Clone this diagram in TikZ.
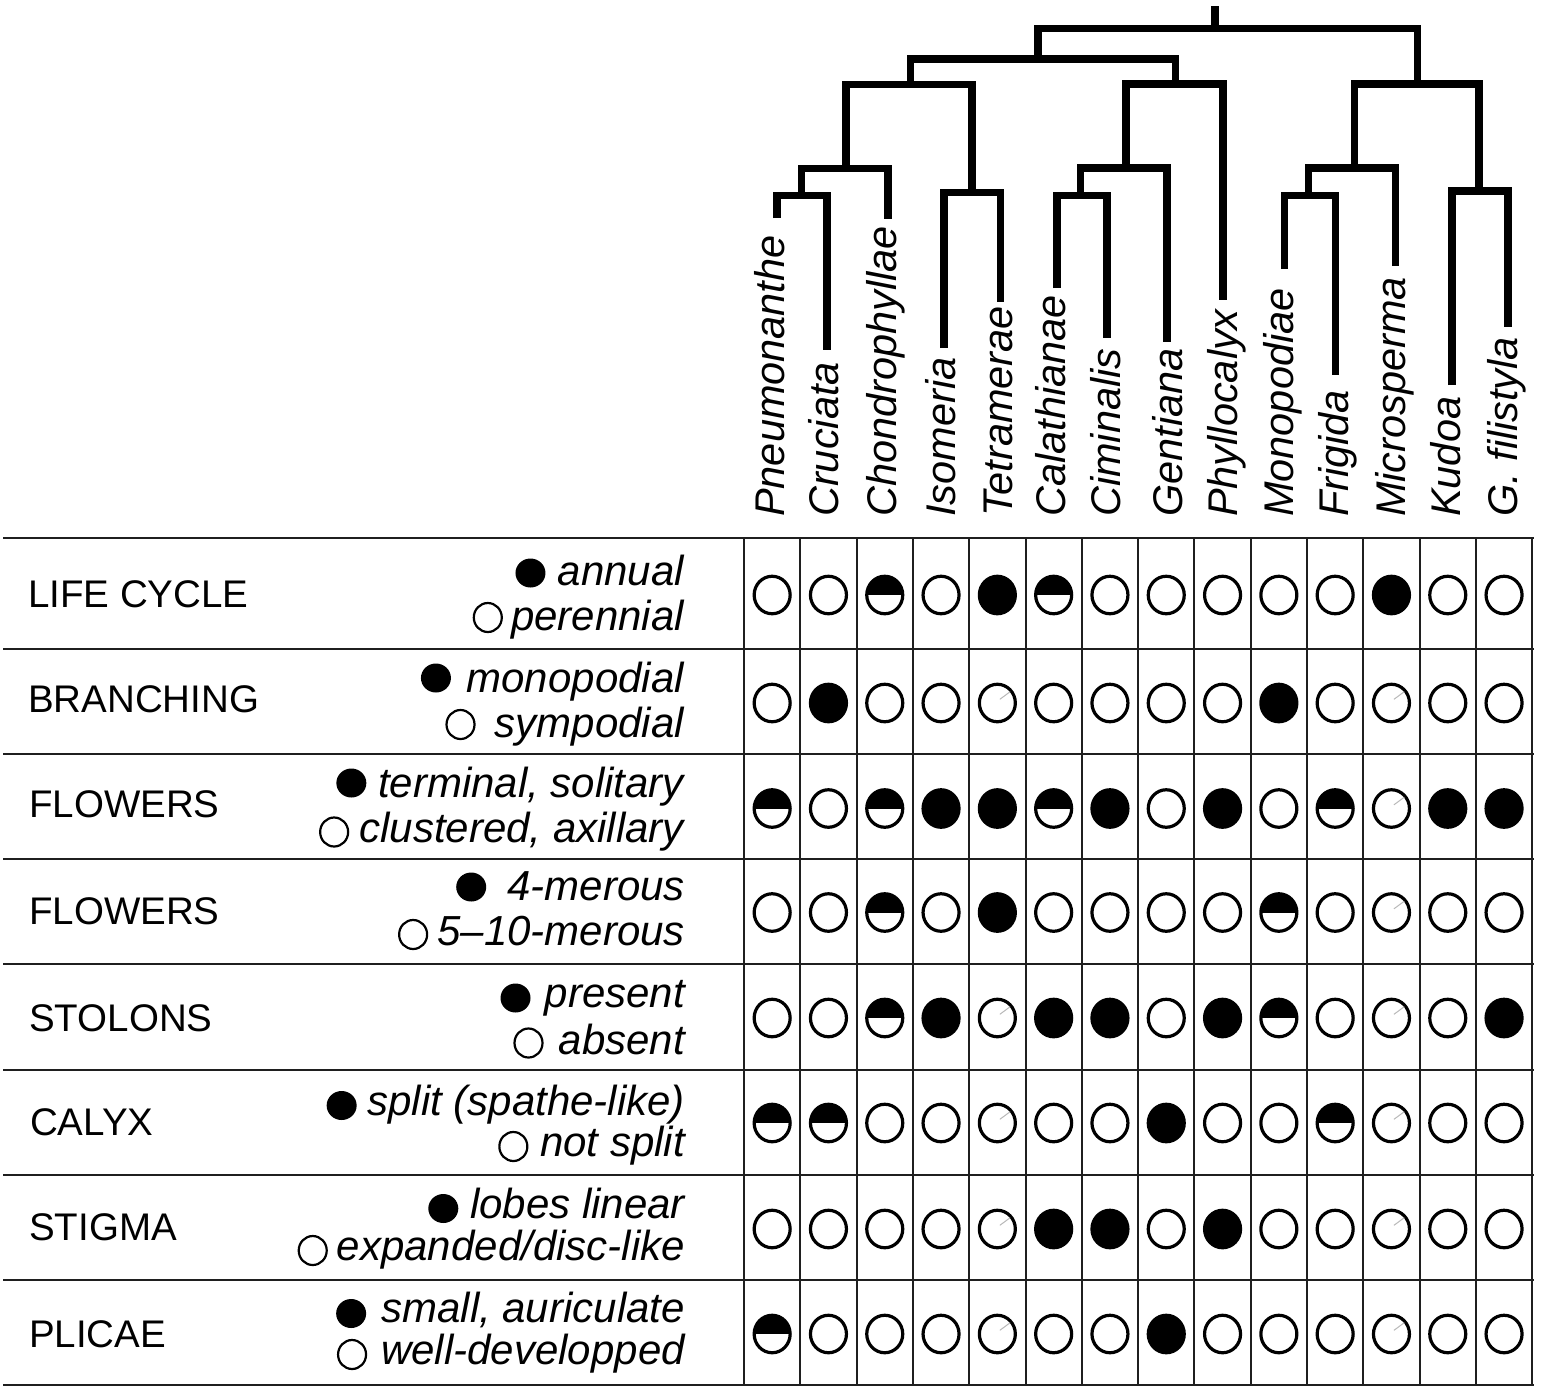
\documentclass[tikz,border=0pt]{standalone}
\usepackage{fontspec}
\setmainfont{Liberation Sans}
\usetikzlibrary{shapes.geometric}
\begin{document}
\begin{tikzpicture}[x=1pt,y=-1pt,
  branch/.style={line width=7.5pt, line join=miter},
  gridline/.style={line width=2pt, black!88, line cap=rect},
  taxon/.style={rotate=90, anchor=base west, inner sep=0pt, font=\fontsize{41.5}{48}\selectfont\itshape},
  rowlab/.style={anchor=base west, inner sep=0pt, font=\fontsize{38.5}{44}\selectfont},
  legtxt/.style={anchor=base east, inner sep=0pt, font=\fontsize{42}{48}\selectfont\itshape},
  legfull/.style={ellipse, fill=black, inner sep=0pt, minimum width=30pt, minimum height=29pt},
  legopen/.style={ellipse, draw=black, line width=2.2pt, inner sep=0pt, minimum width=28pt, minimum height=29pt},
  st0/.style={ellipse, draw=black, line width=3.2pt, inner sep=0pt, minimum width=36pt, minimum height=37.5pt},
  st1/.style={st0, fill=black},
  st2/.style={st0, path picture={\fill[black] (path picture bounding box.north west) rectangle (path picture bounding box.east);}},
  st3/.style={st0},
  slash/.style={gray!55, line width=1pt}
]
\useasboundingbox (0,0) rectangle (1543,1393);
\fill[white] (0,0) rectangle (1543,1393);

% ---------- tree ----------
\coordinate (root) at (1215,28.5);
\coordinate (rtop) at (1215,6);
\coordinate (nL1) at (1038,59);
\coordinate (nR1) at (1417.5,84);
\coordinate (nL2a) at (910.5,84.5);
\coordinate (nL2b) at (1175.5,84);
\coordinate (nL3a) at (846,168.5);
\coordinate (nL3b) at (972,192.5);
\coordinate (nL4a) at (801.5,195.5);
\coordinate (nL3c) at (1126,168);
\coordinate (nL4c) at (1080.5,195.5);
\coordinate (nR2a) at (1354.5,168);
\coordinate (nR3a) at (1308.5,195.5);
\coordinate (nR2b) at (1479,191);
\coordinate (tPn) at (777,218);
\coordinate (tCr) at (827,350);
\coordinate (tCh) at (888,219);
\coordinate (tIs) at (944,348);
\coordinate (tTe) at (1000.5,302);
\coordinate (tCa) at (1057,288);
\coordinate (tCi) at (1107,338);
\coordinate (tGe) at (1167,342);
\coordinate (tPh) at (1223,300);
\coordinate (tMo) at (1284.5,269);
\coordinate (tFr) at (1335.5,375);
\coordinate (tMi) at (1395.5,266);
\coordinate (tKu) at (1452,385);
\coordinate (tGf) at (1508,327);

\draw[branch] (root) -- (rtop);
\draw[branch] (nL1) |- (root) -| (nR1);
\draw[branch] (nL2a) |- (nL1) -| (nL2b);
\draw[branch] (nL3a) |- (nL2a) -| (nL3b);
\draw[branch] (nL4a) |- (nL3a) -| (tCh);
\draw[branch] (tPn) |- (nL4a) -| (tCr);
\draw[branch] (tIs) |- (nL3b) -| (tTe);
\draw[branch] (nL3c) |- (nL2b) -| (tPh);
\draw[branch] (nL4c) |- (nL3c) -| (tGe);
\draw[branch] (tCa) |- (nL4c) -| (tCi);
\draw[branch] (nR2a) |- (nR1) -| (nR2b);
\draw[branch] (nR3a) |- (nR2a) -| (tMi);
\draw[branch] (tMo) |- (nR3a) -| (tFr);
\draw[branch] (tKu) |- (nR2b) -| (tGf);

% ---------- taxon labels ----------
\node[taxon] (xPn) at (784,517) {Pneumonanthe};
\node[taxon] (xCr) at (838,517) {Cruciata};
\node[taxon] (xCh) at (896,517) {Chondrophyllae};
\node[taxon] (xIs) at (955,517) {Isomeria};
\node[taxon] (xTe) at (1012,517) {Tetramerae};
\node[taxon] (xCa) at (1065,517) {Calathianae};
\node[taxon] (xCi) at (1120,517) {Ciminalis};
\node[taxon] (xGe) at (1182,517) {Gentiana};
\node[taxon] (xPh) at (1237,517) {Phyllocalyx};
\node[taxon] (xMo) at (1293,517) {Monopodiae};
\node[taxon] (xFr) at (1348,517) {Frigida};
\node[taxon] (xMi) at (1405,517) {Microsperma};
\node[taxon] (xKu) at (1460,517) {Kudoa};
\node[taxon] (xGf) at (1517,517) {G. filistyla};

% ---------- grid ----------
\foreach \yy in {538,649,754,859,964,1070,1175,1280,1385}
  \draw[gridline] (4,\yy) -- (1533,\yy);
\foreach \i in {0,...,14}
  \draw[gridline] (744+56.3*\i,538) -- (744+56.3*\i,1385);

% ---------- row labels ----------
\node[rowlab] (r1) at (28,607) {LIFE CYCLE};
\node[rowlab] (r2) at (28,712.7) {BRANCHING};
\node[rowlab] (r3) at (29,817) {FLOWERS};
\node[rowlab] (r4) at (29,924) {FLOWERS};
\node[rowlab] (r5) at (29,1031.7) {STOLONS};
\node[rowlab] (r6) at (30,1135.5) {CALYX};
\node[rowlab] (r7) at (29,1240) {STIGMA};
\node[rowlab] (r8) at (29,1347) {PLICAE};

% ---------- legend texts ----------
\node[legtxt] (l1a) at (684,585) {annual};
\node[legtxt] (l1b) at (684,630) {perennial};
\node[legtxt] (l2a) at (684,692) {monopodial};
\node[legtxt] (l2b) at (684,737) {sympodial};
\node[legtxt] (l3a) at (684,797) {terminal, solitary};
\node[legtxt] (l3b) at (684,842) {clustered, axillary};
\node[legtxt] (l4a) at (685,900) {4-merous};
\node[legtxt] (l4b) at (685,945) {5–10-merous};
\node[legtxt] (l5a) at (685,1007) {present};
\node[legtxt] (l5b) at (685,1054) {absent};
\node[legtxt] (l6a) at (685,1115) {split (spathe-like)};
\node[legtxt] (l6b) at (685,1156) {not split};
\node[legtxt] (l7a) at (685,1218) {lobes linear};
\node[legtxt] (l7b) at (685,1260) {expanded/disc-like};
\node[legtxt] (l8a) at (685,1322) {small, auriculate};
\node[legtxt] (l8b) at (685,1364) {well-developped};

% ---------- legend symbols ----------
\node[legfull] (f1) at ([shift={(-27,-12)}]l1a.base west) {};
\node[legopen] (o1) at ([shift={(-23,-12.5)}]l1b.base west) {};
\node[legfull] (f2) at ([shift={(-30.5,-14)}]l2a.base west) {};
\node[legopen] (o2) at ([shift={(-34,-12.5)}]l2b.base west) {};
\node[legfull] (f3) at ([shift={(-26.5,-14)}]l3a.base west) {};
\node[legopen] (o3) at ([shift={(-25,-10)}]l3b.base west) {};
\node[legfull] (f4) at ([shift={(-36,-13)}]l4a.base west) {};
\node[legopen] (o4) at ([shift={(-24,-10.5)}]l4b.base west) {};
\node[legfull] (f5) at ([shift={(-29,-9)}]l5a.base west) {};
\node[legopen] (o5) at ([shift={(-30,-11)}]l5b.base west) {};
\node[legfull] (f6) at ([shift={(-25.5,-9.5)}]l6a.base west) {};
\node[legopen] (o6) at ([shift={(-26.5,-9.5)}]l6b.base west) {};
\node[legfull] (f7) at ([shift={(-26.5,-9.5)}]l7a.base west) {};
\node[legopen] (o7) at ([shift={(-24,-9.5)}]l7b.base west) {};
\node[legfull] (f8) at ([shift={(-30,-8.5)}]l8a.base west) {};
\node[legopen] (o8) at ([shift={(-29,-9.5)}]l8b.base west) {};

% ---------- character states ----------
\foreach \row/\yy [count=\r] in {
  {0,0,2,0,1,2,0,0,0,0,0,1,0,0}/595,
  {0,1,0,0,3,0,0,0,0,1,0,3,0,0}/703,
  {2,0,2,1,1,2,1,0,1,0,2,3,1,1}/808.5,
  {0,0,2,0,1,0,0,0,0,2,0,3,0,0}/912.5,
  {0,0,2,1,3,1,1,0,1,2,0,3,0,1}/1018,
  {2,2,0,0,3,0,0,1,0,0,2,3,0,0}/1123,
  {0,0,0,0,3,1,1,0,1,0,0,3,0,0}/1229,
  {2,0,0,0,3,0,0,1,0,0,0,3,0,0}/1334}
{
  \foreach \v [count=\c] in \row {
    \node[st\v] (c\r-\c) at (744+56.3*\c-28.15,\yy) {};
    \ifnum\v=3
      \draw[slash] ([shift={(2.5,-3.7)}]c\r-\c.center) -- ++(10.3,-7.6);
    \fi
  }
}
\end{tikzpicture}
\end{document}
